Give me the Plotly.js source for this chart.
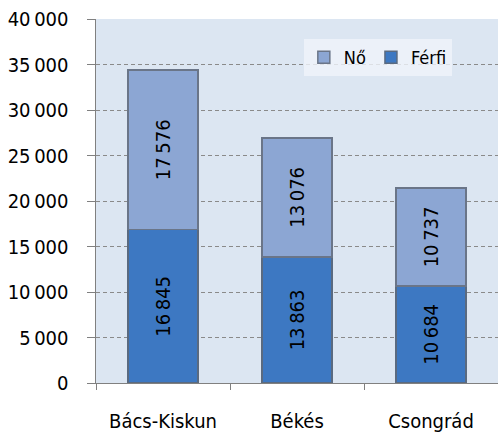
<!DOCTYPE html>
<html>
<head>
<meta charset="utf-8">
<script src="https://cdn.plot.ly/plotly-3.0.1.min.js"></script>
<style>html,body{margin:0;padding:0;background:#fff;}#chart{width:498px;height:432px;}</style>
</head>
<body>
<div id="chart"></div>
<script>
var categories = ['Bács-Kiskun', 'Békés', 'Csongrád'];
var ferfi = [16845, 13863, 10684];
var no = [17576, 13076, 10737];
var yTicks = [0, 5000, 10000, 15000, 20000, 25000, 30000, 35000, 40000];

var font = 'DejaVu Sans Condensed, DejaVu Sans, sans-serif';

var traces = [
  {
    type: 'bar', name: 'Férfi', x: categories, y: ferfi,
    marker: {color: '#3d78c2', line: {color: '#5a6a80', width: 1.5}},
    texttemplate: '%{y:,}', textposition: 'inside', insidetextanchor: 'middle',
    textangle: -90, textfont: {family: font, size: 20, color: '#000'},
    hoverinfo: 'none'
  },
  {
    type: 'bar', name: 'Nő', x: categories, y: no,
    marker: {color: '#8ca6d3', line: {color: '#6a7588', width: 1.5}},
    texttemplate: '%{y:,}', textposition: 'inside', insidetextanchor: 'middle',
    textangle: -90, textfont: {family: font, size: 20, color: '#000'},
    hoverinfo: 'none'
  }
];

var layout = {
  width: 498, height: 432,
  margin: {l: 96, r: 0, t: 19, b: 49},
  barmode: 'stack', bargap: 0.48,
  separators: ',\u2009',
  paper_bgcolor: '#ffffff', plot_bgcolor: '#dce6f2',
  font: {family: font, size: 20, color: '#000'},
  showlegend: true,
  legend: {
    orientation: 'h', traceorder: 'reversed',
    x: 0.517, y: 0.945, xanchor: 'left', yanchor: 'top',
    bgcolor: 'rgba(240,244,250,0.8)',
    font: {family: font, size: 18, color: '#000'},
    itemwidth: 30
  },
  xaxis: {
    type: 'category', tickson: 'boundaries', ticks: 'outside', ticklen: 6,
    tickcolor: '#808080', showline: true, linecolor: '#808080', linewidth: 1,
    showgrid: false, ticklabelstandoff: 20, mirror: false,
    tickfont: {family: font, size: 20, color: '#000'}, fixedrange: true
  },
  yaxis: {
    range: [0, 40000], tickvals: yTicks, tickformat: ',d',
    ticks: 'outside', ticklen: 8, tickcolor: '#808080',
    showline: true, linecolor: '#808080', linewidth: 1.5,
    showgrid: true, gridcolor: '#8a8a8a', griddash: '4px,3px', gridwidth: 1,
    zeroline: false, ticklabelstandoff: 14,
    tickfont: {family: font, size: 20, color: '#000'}, fixedrange: true
  }
};

Plotly.newPlot('chart', traces, layout, {staticPlot: true, displayModeBar: false});
</script>
</body>
</html>
